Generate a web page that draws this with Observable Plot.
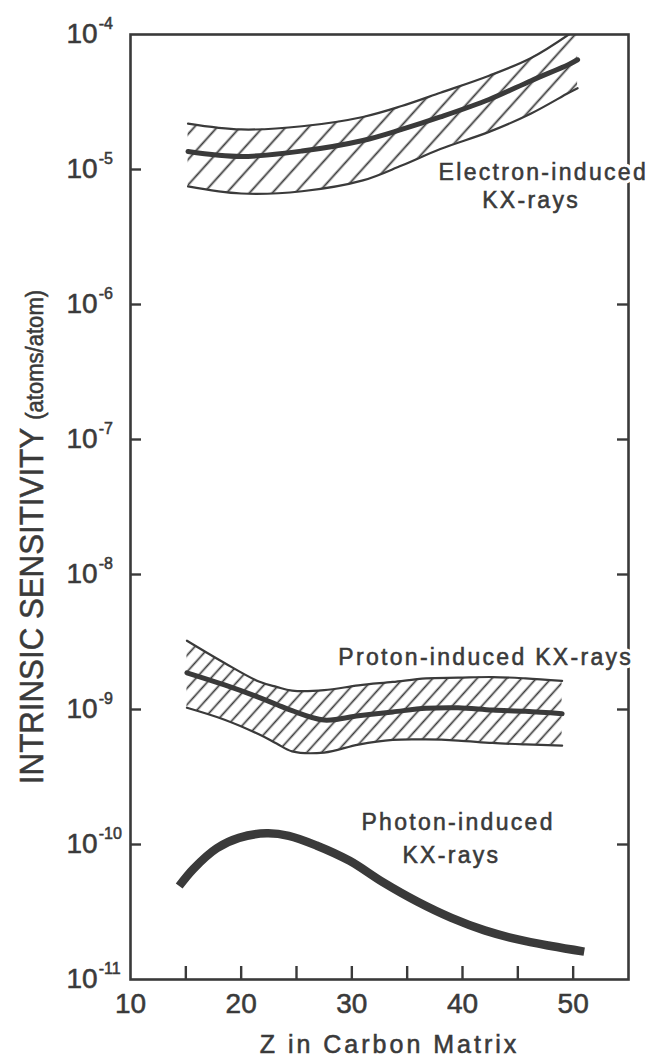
<!DOCTYPE html>
<html><head><meta charset="utf-8">
<script src="https://cdn.jsdelivr.net/npm/d3@7"></script>
<script src="https://cdn.jsdelivr.net/npm/@observablehq/plot@0.6"></script>
<style>
html,body{margin:0;padding:0;background:#fff;}
svg{display:block;}
</style></head>
<body><div id="chart"></div>
<script>
// ---- data (Z in carbon matrix, intrinsic sensitivity in atoms/atom) ----
const electronZ    = [15.2, 20, 25.5, 31, 34.5, 38, 42.4, 46.2, 49.6, 50.4];
const electronHigh = [2.19e-5, 1.98e-5, 2.09e-5, 2.45e-5, 2.95e-5, 3.7e-5, 4.95e-5, 6.7e-5, 1.0e-4, 1.12e-4];
const electronMid  = [1.36e-5, 1.25e-5, 1.37e-5, 1.64e-5, 1.98e-5, 2.45e-5, 3.3e-5, 4.55e-5, 6.0e-5, 6.5e-5];
const electronLow  = [7.5e-6, 6.64e-6, 6.9e-6, 8.3e-6, 1.07e-5, 1.42e-5, 1.9e-5, 2.6e-5, 3.7e-5, 4.0e-5];

const protonZ    = [15.1, 18.5, 21.6, 23.2, 24.6, 27.5, 30.6, 33.7, 36.7, 39.6, 42.7, 45.7, 49.0];
const protonHigh = [3.23e-9, 2.21e-9, 1.61e-9, 1.47e-9, 1.38e-9, 1.39e-9, 1.51e-9, 1.60e-9, 1.70e-9, 1.72e-9, 1.74e-9, 1.70e-9, 1.63e-9];
const protonMid  = [1.87e-9, 1.52e-9, 1.23e-9, 1.09e-9, 9.8e-10, 8.35e-10, 9.0e-10, 9.6e-10, 1.02e-9, 1.03e-9, 9.9e-10, 9.7e-10, 9.3e-10];
const protonLow  = [1.03e-9, 8.4e-10, 6.55e-10, 5.6e-10, 4.9e-10, 4.8e-10, 5.5e-10, 5.96e-10, 6.0e-10, 5.89e-10, 5.65e-10, 5.51e-10, 5.4e-10];

const photonZ    = [14.4, 15.7, 17.8, 19.8, 22.3, 24.3, 26.8, 29.8, 32.8, 35.9, 39.0, 42.0, 45.0, 48.0, 51.0];
const photonSens = [4.93e-11, 6.62e-11, 9.38e-11, 1.12e-10, 1.21e-10, 1.16e-10, 9.84e-11, 7.57e-11, 5.26e-11, 3.78e-11, 2.86e-11, 2.31e-11, 1.98e-11, 1.77e-11, 1.61e-11];

const xTickLabels = [10, 20, 30, 40, 50];
const xMinorTicks = [15, 20, 25, 30, 35, 40, 45, 50];
const yTickLabels = [1e-11, 1e-10, 1e-9, 1e-8, 1e-7, 1e-6, 1e-5, 1e-4];
const yInnerTicks = [1e-10, 1e-9, 1e-8, 1e-7, 1e-6, 1e-5];

const annotationText = ["Electron-induced", "KX-rays", "Proton-induced KX-rays", "Photon-induced", "KX-rays"];
const annotationZ    = [47.3, 46.2, 42.1, 39.6, 39.0];
const annotationS    = [9.5e-6, 5.9e-6, 2.43e-9, 1.46e-10, 8.3e-11];

const xTitle = "Z in Carbon Matrix";
const yTitleMain = "INTRINSIC SENSITIVITY";
const yTitleUnit = "(atoms/atom)";

// ---- layout ----
const ink = "#3a3a3a";
const W = 651, H = 1063;
const mL = 130, mR = 23, mT = 34, mB = 84;
const frameW = W - mL - mR, frameH = H - mT - mB;
const curve = "catmull-rom";

const supMap = {"-": "\u207B", "0": "\u2070", "1": "\u00B9", "2": "\u00B2", "3": "\u00B3", "4": "\u2074",
  "5": "\u2075", "6": "\u2076", "7": "\u2077", "8": "\u2078", "9": "\u2079"};
const fmtPow = d => "10" + String(Math.round(Math.log10(d))).replace(/./g, c => supMap[c]);

const electron = electronZ.map((z, i) => ({z, lo: electronLow[i], mid: electronMid[i], hi: electronHigh[i]}));
const proton = protonZ.map((z, i) => ({z, lo: protonLow[i], mid: protonMid[i], hi: protonHigh[i]}));
const photon = photonZ.map((z, i) => ({z, s: photonSens[i]}));
const notes = annotationText.map((t, i) => ({t, z: annotationZ[i], s: annotationS[i]}));

const font = "'Liberation Sans', Arial, sans-serif";

const svg = Plot.plot({
  width: W, height: H,
  marginLeft: mL, marginRight: mR, marginTop: mT, marginBottom: mB,
  style: {fontFamily: font, color: ink, background: "#fff", overflow: "visible"},
  x: {type: "linear", domain: [10, 55]},
  y: {type: "log", domain: [1e-11, 1e-4]},
  marks: [
    Plot.areaY(electron, {x: "z", y1: "lo", y2: "hi", fill: "url(#hatchE)", curve, clip: true}),
    Plot.areaY(proton, {x: "z", y1: "lo", y2: "hi", fill: "url(#hatchP)", curve, clip: true}),
    Plot.line(electron, {x: "z", y: "hi", stroke: ink, strokeWidth: 2.2, curve, clip: true}),
    Plot.line(electron, {x: "z", y: "lo", stroke: ink, strokeWidth: 2.2, curve, clip: true}),
    Plot.line(electron, {x: "z", y: "mid", stroke: ink, strokeWidth: 5, curve, clip: true}),
    Plot.line(proton, {x: "z", y: "hi", stroke: ink, strokeWidth: 2.2, curve}),
    Plot.line(proton, {x: "z", y: "lo", stroke: ink, strokeWidth: 2.2, curve}),
    Plot.line(proton, {x: "z", y: "mid", stroke: ink, strokeWidth: 5, curve}),
    Plot.line(photon, {x: "z", y: "s", stroke: ink, strokeWidth: 8.5, curve, strokeLinecap: "butt"}),
    Plot.frame({stroke: ink, strokeWidth: 2.6}),
    Plot.tickX(xMinorTicks, {x: d => d, stroke: ink, strokeWidth: 2.4, insetTop: frameH - 13}),
    Plot.tickY(yInnerTicks, {y: d => d, stroke: ink, strokeWidth: 2.4, insetRight: frameW - 11}),
    Plot.tickY(yInnerTicks, {y: d => d, stroke: ink, strokeWidth: 2.4, insetLeft: frameW - 11}),
    Plot.axisX({ticks: xTickLabels, tickSize: 0, tickPadding: 14, fontSize: 28, tickFormat: d => String(d), label: null, fill: ink}),
    Plot.axisY({ticks: yTickLabels, tickSize: 0, tickPadding: 0, textAnchor: "start", dx: -64, fontSize: 28, tickFormat: fmtPow, label: null, fill: ink}),
    // white halo that interrupts the frame and hatching behind the labels
    Plot.text(notes, {x: "z", y: "s", text: "t", fontSize: 23, fill: "white", stroke: "white", strokeWidth: 7}),
    Plot.text(notes, {x: "z", y: "s", text: "t", fontSize: 23, fill: ink}),
    Plot.text([xTitle], {frameAnchor: "bottom", text: d => d, textAnchor: "middle", dx: 10, dy: 73, lineAnchor: "bottom", fontSize: 25, fill: ink}),
    Plot.text([yTitleMain + " " + yTitleUnit], {frameAnchor: "left", text: d => d, textAnchor: "middle", rotate: -90, dx: -88, dy: 30, lineAnchor: "bottom", fontSize: 34, fill: ink})
  ]
});

// hatch patterns for the uncertainty bands
d3.select(svg).insert("defs", ":first-child").html(`
  <pattern id="hatchE" patternUnits="userSpaceOnUse" width="17" height="20" patternTransform="rotate(42)">
    <line x1="8.5" y1="-2" x2="8.5" y2="22" stroke="${ink}" stroke-width="1.8"/>
  </pattern>
  <pattern id="hatchP" patternUnits="userSpaceOnUse" width="11" height="20" patternTransform="rotate(42)">
    <line x1="5.5" y1="-2" x2="5.5" y2="22" stroke="${ink}" stroke-width="1.7"/>
  </pattern>`);

const invSup = Object.fromEntries(Object.entries(supMap).map(([k, v]) => [v, k]));
d3.select(svg).selectAll("text").each(function () {
  const isHalo = !!this.closest('[stroke="white"]');
  const t = this.textContent;
  const el = d3.select(this);
  if (!isHalo) el.attr("stroke", ink).attr("stroke-width", 0.55);
  if (annotationText.includes(t)) el.attr("letter-spacing", "2.3");
  if (t === xTitle) el.attr("letter-spacing", "3");
  if (t === yTitleMain + " " + yTitleUnit) {
    el.text(null);
    el.append("tspan").attr("font-size", 34).text(yTitleMain + " ");
    el.append("tspan").attr("font-size", 24).text(yTitleUnit);
    el.attr("transform", (el.attr("transform") || "") + " scale(0.92,1)");
  }
  // power-of-ten tick labels: rebuild as "10" + raised exponent
  const m = /^10([\u207B\u2070\u00B9\u00B2\u00B3\u2074-\u2079]+)$/.exec(t);
  if (m) {
    const exp = m[1].split("").map(c => invSup[c]).join("");
    el.text(null);
    el.append("tspan").text("10");
    el.append("tspan").attr("dy", -14).attr("dx", 1).attr("font-size", 16).text(exp);
  }
});

document.getElementById("chart").appendChild(svg);
</script>
</body></html>
